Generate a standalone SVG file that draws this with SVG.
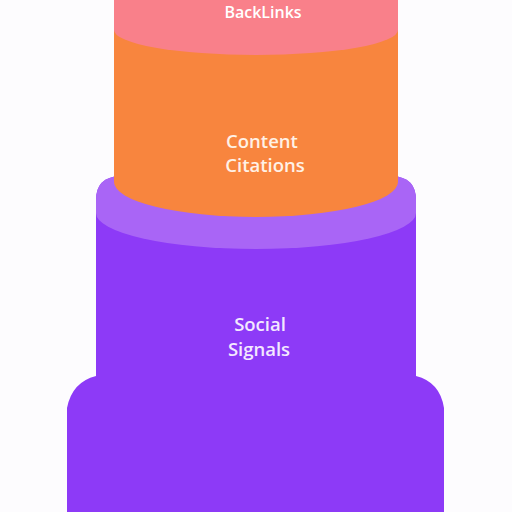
<svg xmlns="http://www.w3.org/2000/svg" width="512" height="512" viewBox="0 0 512 512">
  <style>
    .lbl { font-family: "Open Sans", "Liberation Sans", sans-serif; font-weight: 600; text-anchor: middle; }
  </style>
  <rect width="512" height="512" fill="#fdfcfe"/>
  <g id="social-signals">
    <path d="M96,376 L96,200 Q96,177 120,176 L392,176 Q416,177 416,200 L416,376 Q440,382 444,408 L444,512 L67,512 L67,408 Q72,382 96,376 Z" fill="#8d3af7"/>
    <path d="M96,213 L96,200 Q96,177 120,176 L392,176 Q416,177 416,200 L416,213 A160,36 0 0 1 96,213 Z" fill="#a965f6"/>
    <text class="lbl" x="260" y="331" font-size="18.5" fill="#f3e8ff">Social</text>
    <text class="lbl" x="259" y="356" font-size="18.5" fill="#f3e8ff">Signals</text>
  </g>
  <g id="content-citations">
    <path d="M114,0 L398,0 L398,182 A142,35 0 0 1 114,182 Z" fill="#f8853e"/>
    <text class="lbl" x="262" y="148" font-size="18.5" fill="#fff1e6">Content</text>
    <text class="lbl" x="265" y="172" font-size="18.5" fill="#fff1e6">Citations</text>
  </g>
  <g id="backlinks">
    <path d="M114,0 L398,0 L398,30 A142,25 0 0 1 114,30 Z" fill="#f9808a"/>
    <text class="lbl" x="263" y="18" font-size="16" fill="#ffffff">BackLinks</text>
  </g>
  <g id="connectors"/>
</svg>
